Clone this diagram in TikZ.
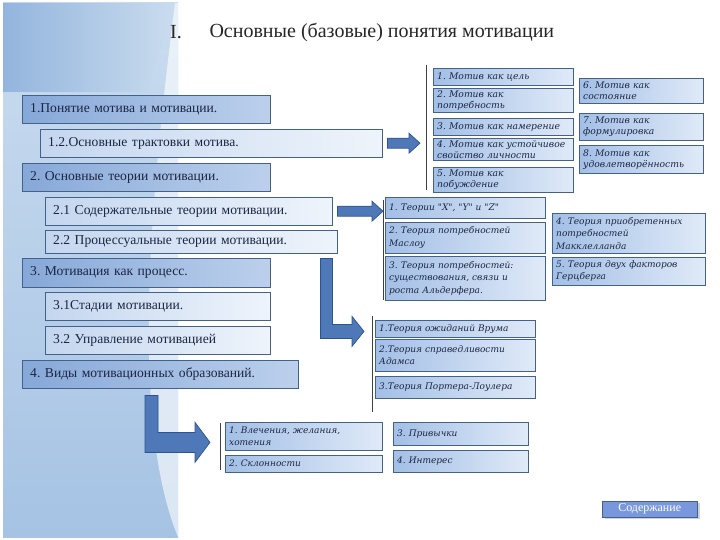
\documentclass[tikz,border=0pt]{standalone}
\usepackage{fontspec}
\setmainfont{Liberation Serif}
\newfontfamily\boxfont{DejaVu Serif}
\usetikzlibrary{calc,shadows}
\frenchspacing

\definecolor{darkL}{HTML}{86A8D8}
\definecolor{darkR}{HTML}{BCD0EC}
\definecolor{lightL}{HTML}{C4D6EF}
\definecolor{lightR}{HTML}{EEF4FB}
\definecolor{smL}{HTML}{A3BFE6}
\definecolor{smR}{HTML}{E0EAF8}
\definecolor{boxline}{HTML}{44618A}
\definecolor{txt}{HTML}{1B2642}
\definecolor{arrowfill}{HTML}{4F78B8}
\definecolor{arrowline}{HTML}{2E548F}
\definecolor{bgA}{HTML}{CADCEF}
\definecolor{bgB}{HTML}{A6C3E4}
\definecolor{bgC}{HTML}{93B5DD}

\newcommand{\blockarrow}[2]{%
  \filldraw[barrow] ($(#1)+(0,-5)$) -- ($(#2)+(-11,-5)$) -- ($(#2)+(-11,-10)$) -- (#2)
    -- ($(#2)+(-11,10)$) -- ($(#2)+(-11,5)$) -- ($(#1)+(0,5)$) -- cycle;}

\begin{document}
\begin{tikzpicture}[x=1pt, y=-1pt,
  bigbox/.style={draw=boxline, left color=darkL, right color=darkR, anchor=north west, align=left,
    inner xsep=8pt, inner ysep=0pt, text=txt, font=\fontsize{13.6}{15}\selectfont},
  subbox/.style={bigbox, left color=lightL, right color=lightR},
  smbox/.style={draw=boxline, left color=smL, right color=smR, anchor=north west, align=left,
    inner xsep=4pt, inner ysep=1pt, text=txt, font=\boxfont\fontsize{9.2}{11}\selectfont\itshape},
  thbox/.style={smbox, font=\boxfont\fontsize{9}{12.5}\selectfont\itshape},
  barrow/.style={fill=arrowfill, draw=arrowline, line width=0.7pt},
  brk/.style={draw=black!75, line width=0.6pt}]
  \useasboundingbox (0,0) rectangle (720,540);
  \fill[white] (0,0) rectangle (720,540);
  % left panel
  \shade[top color=bgA, bottom color=bgB] (3,3) rectangle (178,537);
  \fill[white, opacity=0.6] (175,3) -- (178,3) -- (178,537) .. controls (130,420) and (150,200) .. (175,3) -- cycle;
  \shade[left color=bgC, right color=bgA] (3,3) -- (175,3) -- (147,92) -- (3,92) -- cycle;
  % title
  \node[font=\fontsize{20}{22}\selectfont, text=black!85] (num) at (176,32) {I.};
  \node[font=\fontsize{20}{22}\selectfont, text=black!85, anchor=west] (ttl) at (206,32) {Основные (базовые) понятия мотивации};

  % left column
  \node[bigbox, text width=232pt, minimum height=28pt] (p1) at (22,95) {1.Понятие мотива и мотивации.};
  \node[subbox, text width=326pt, minimum height=28pt] (p12) at (40,129) {1.2.Основные трактовки мотива.};
  \node[bigbox, text width=232pt, minimum height=28pt] (p2) at (22,163) {2. Основные теории мотивации.};
  \node[subbox, text width=271pt, minimum height=28pt] (p21) at (45,197) {2.1 Содержательные теории мотивации.};
  \node[subbox, text width=276pt, minimum height=23pt] (p22) at (45,230) {2.2 Процессуальные теории мотивации.};
  \node[bigbox, text width=232pt, minimum height=29pt] (p3) at (22,258) {3. Мотивация как процесс.};
  \node[subbox, text width=209pt, minimum height=28pt] (p31) at (45,292) {3.1Стадии мотивации.};
  \node[subbox, text width=209pt, minimum height=28pt] (p32) at (45,326) {3.2 Управление мотивацией};
  \node[bigbox, text width=260pt, minimum height=28pt] (p4) at (22,360) {4. Виды мотивационных образований.};

  % motive notions
  \node[smbox, text width=132pt, minimum height=17pt] (m1) at (433,68) {1. Мотив как цель};
  \node[smbox, text width=132pt, minimum height=24pt] (m2) at (433,88) {2. Мотив как\\потребность};
  \node[smbox, text width=132pt, minimum height=17pt] (m3) at (433,118) {3. Мотив как намерение};
  \node[smbox, text width=132pt, minimum height=22pt] (m4) at (433,138) {4. Мотив как устойчивое\\свойство личности};
  \node[smbox, text width=132pt, minimum height=25pt] (m5) at (433,167) {5. Мотив как\\побуждение};
  \node[smbox, text width=116pt, minimum height=25pt] (m6) at (579,78) {6. Мотив как\\состояние};
  \node[smbox, text width=116pt, minimum height=27pt] (m7) at (579,113) {7. Мотив как\\формулировка};
  \node[smbox, text width=116pt, minimum height=28pt] (m8) at (579,145) {8. Мотив как\\удовлетворённость};

  % content theories
  \node[thbox, text width=152pt, minimum height=21pt] (t1) at (385,197) {1. Теории "X", "Y" и "Z"};
  \node[thbox, text width=152pt, minimum height=31pt] (t2) at (385,222) {2. Теория потребностей\\Маслоу};
  \node[thbox, text width=152pt, minimum height=44pt] (t3) at (385,256) {3. Теория потребностей:\\существования, связи и\\роста Альдерфера.};
  \node[thbox, text width=145pt, minimum height=40pt] (t4) at (552,213) {4. Теория приобретенных\\потребностей\\Макклелланда};
  \node[thbox, text width=145pt, minimum height=28pt] (t5) at (552,257) {5. Теория двух факторов\\Герцберга};

  % process theories
  \node[thbox, text width=152pt, minimum height=17pt] (v1) at (375,320) {1.Теория ожиданий Врума};
  \node[thbox, text width=152pt, minimum height=32pt] (v2) at (375,339) {2.Теория справедливости\\Адамса};
  \node[thbox, text width=152pt, minimum height=22pt] (v3) at (375,376) {3.Теория Портера-Лоулера};

  % formations
  \node[thbox, text width=149pt, minimum height=28pt] (f1) at (225,422) {1. Влечения, желания,\\хотения};
  \node[thbox, text width=149pt, minimum height=17pt] (f2) at (225,455) {2. Склонности};
  \node[thbox, text width=127pt, minimum height=23pt] (f3) at (393,422) {3. Привычки};
  \node[thbox, text width=127pt, minimum height=22pt] (f4) at (393,450) {4. Интерес};

  % brackets
  \draw[brk] ($(m1.north west)+(-7,-3)$) -- ($(m5.south west)+(-7,-2)$);
  \draw[brk] ($(t1.north west)+(-2,3)$) -- ($(t3.south west)+(-2,0)$);
  \draw[brk] ($(v1.north west)+(-3,-4)$) -- ($(v3.south west)+(-3,14)$);
  \draw[brk] ($(f1.north west)+(-5,1)$) -- ($(f2.south west)+(-5,-2)$);

  % arrows
  \coordinate (a1s) at ($(p12.east)+(5,0)$);
  \coordinate (a1e) at ($(a1s -| m4.west)+(-13,0)$);
  \blockarrow{a1s}{a1e}
  \coordinate (a2s) at ($(p21.east)+(5,0)$);
  \coordinate (a2e) at ($(a2s -| t1.west)+(-2,0)$);
  \blockarrow{a2s}{a2e}
  \coordinate (a3s) at ($(p22.south east)+(-17,5)$);
  \coordinate (a3e) at ($(v1.south west)+(-11,-6)$);
  \filldraw[barrow] (a3s) -- ++(12,0) |- ($(a3e)+(-12,-7)$) -- ++(0,-8) -- (a3e)
    -- ($(a3e)+(-12,15)$) -- ++(0,-8) -| (a3s) -- cycle;
  \coordinate (a4s) at ($(p4.south west)+(123,7)$);
  \coordinate (a4e) at ($(f1.south west)+(-15,-8)$);
  \filldraw[barrow] (a4s) -- ++(13,0) |- ($(a4e)+(-15,-10)$) -- ++(0,-10) -- (a4e)
    -- ($(a4e)+(-15,20)$) -- ++(0,-10) -| (a4s) -- cycle;

  % button
  \node[anchor=north west, draw=boxline, fill=darkL!90!blue, text=white, minimum width=95pt, minimum height=16pt,
    inner sep=0pt, font=\fontsize{12}{14}\selectfont, drop shadow={opacity=0.35}] (cont) at (602,501) {Содержание};
\end{tikzpicture}
\end{document}
